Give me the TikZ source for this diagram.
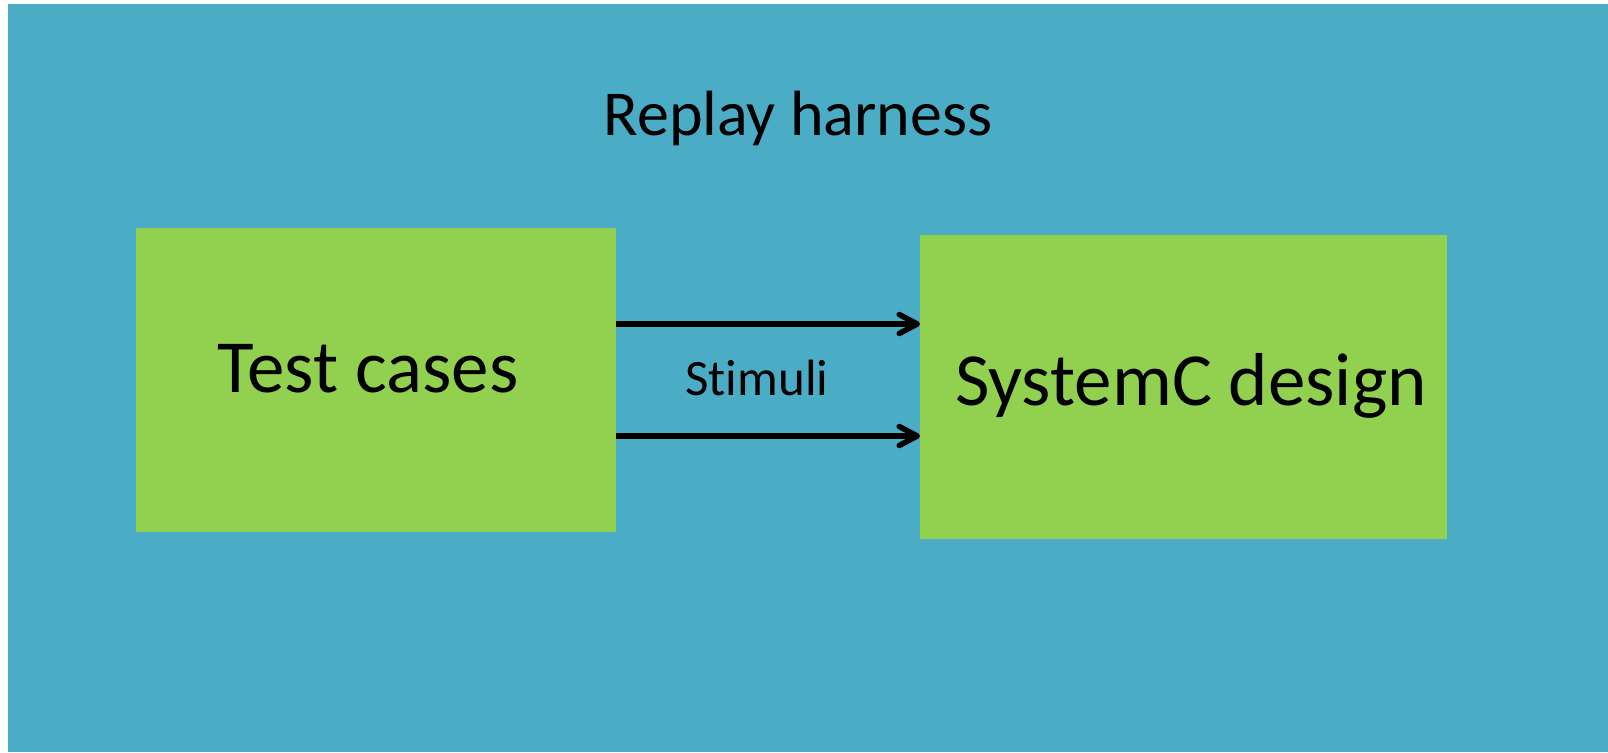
\documentclass[tikz,border=0pt]{standalone}
\usepackage{fontspec}
\setmainfont{Carlito}[Ligatures=NoCommon]
\usetikzlibrary{arrows.meta}
\definecolor{harnessblue}{HTML}{4BACC6}
\definecolor{blockgreen}{HTML}{92D050}
\tikzset{
  block/.style={fill=blockgreen, draw=none, inner sep=0pt, anchor=north west},
  flow/.style={line width=5.5pt, -{Straight Barb[length=18pt,width=19pt,round]}},
  label/.style={inner sep=0pt, anchor=base}
}
\begin{document}
\begin{tikzpicture}[x=1pt,y=-1pt]
  \useasboundingbox (0,0) rectangle (1608,752);
  % outer harness area
  \fill[harnessblue] (8,4) rectangle (1608,752);
  \node[label, font=\fontsize{64}{70}\selectfont] (title) at (798,135) {Replay harness};
  % the two blocks
  \node[block, minimum width=480pt, minimum height=304pt] (tc) at (136,228) {};
  \node[block, minimum width=527pt, minimum height=304pt] (sc) at (920,235) {};
  \node[label, font=\fontsize{75}{80}\selectfont] (tctext) at (368,392) {Test cases};
  \node[label, font=\fontsize{75}{80}\selectfont] (sctext) at (1191,405) {SystemC design};
  % stimulus connectors
  \coordinate (a1) at (616,324);
  \coordinate (a2) at (616,436);
  \draw[flow] (a1) -- (a1 -| sc.west);
  \draw[flow] (a2) -- (a2 -| sc.west);
  \node[label, font=\fontsize{51}{56}\selectfont] (stim) at (757,395) {Stimuli};
\end{tikzpicture}
\end{document}
